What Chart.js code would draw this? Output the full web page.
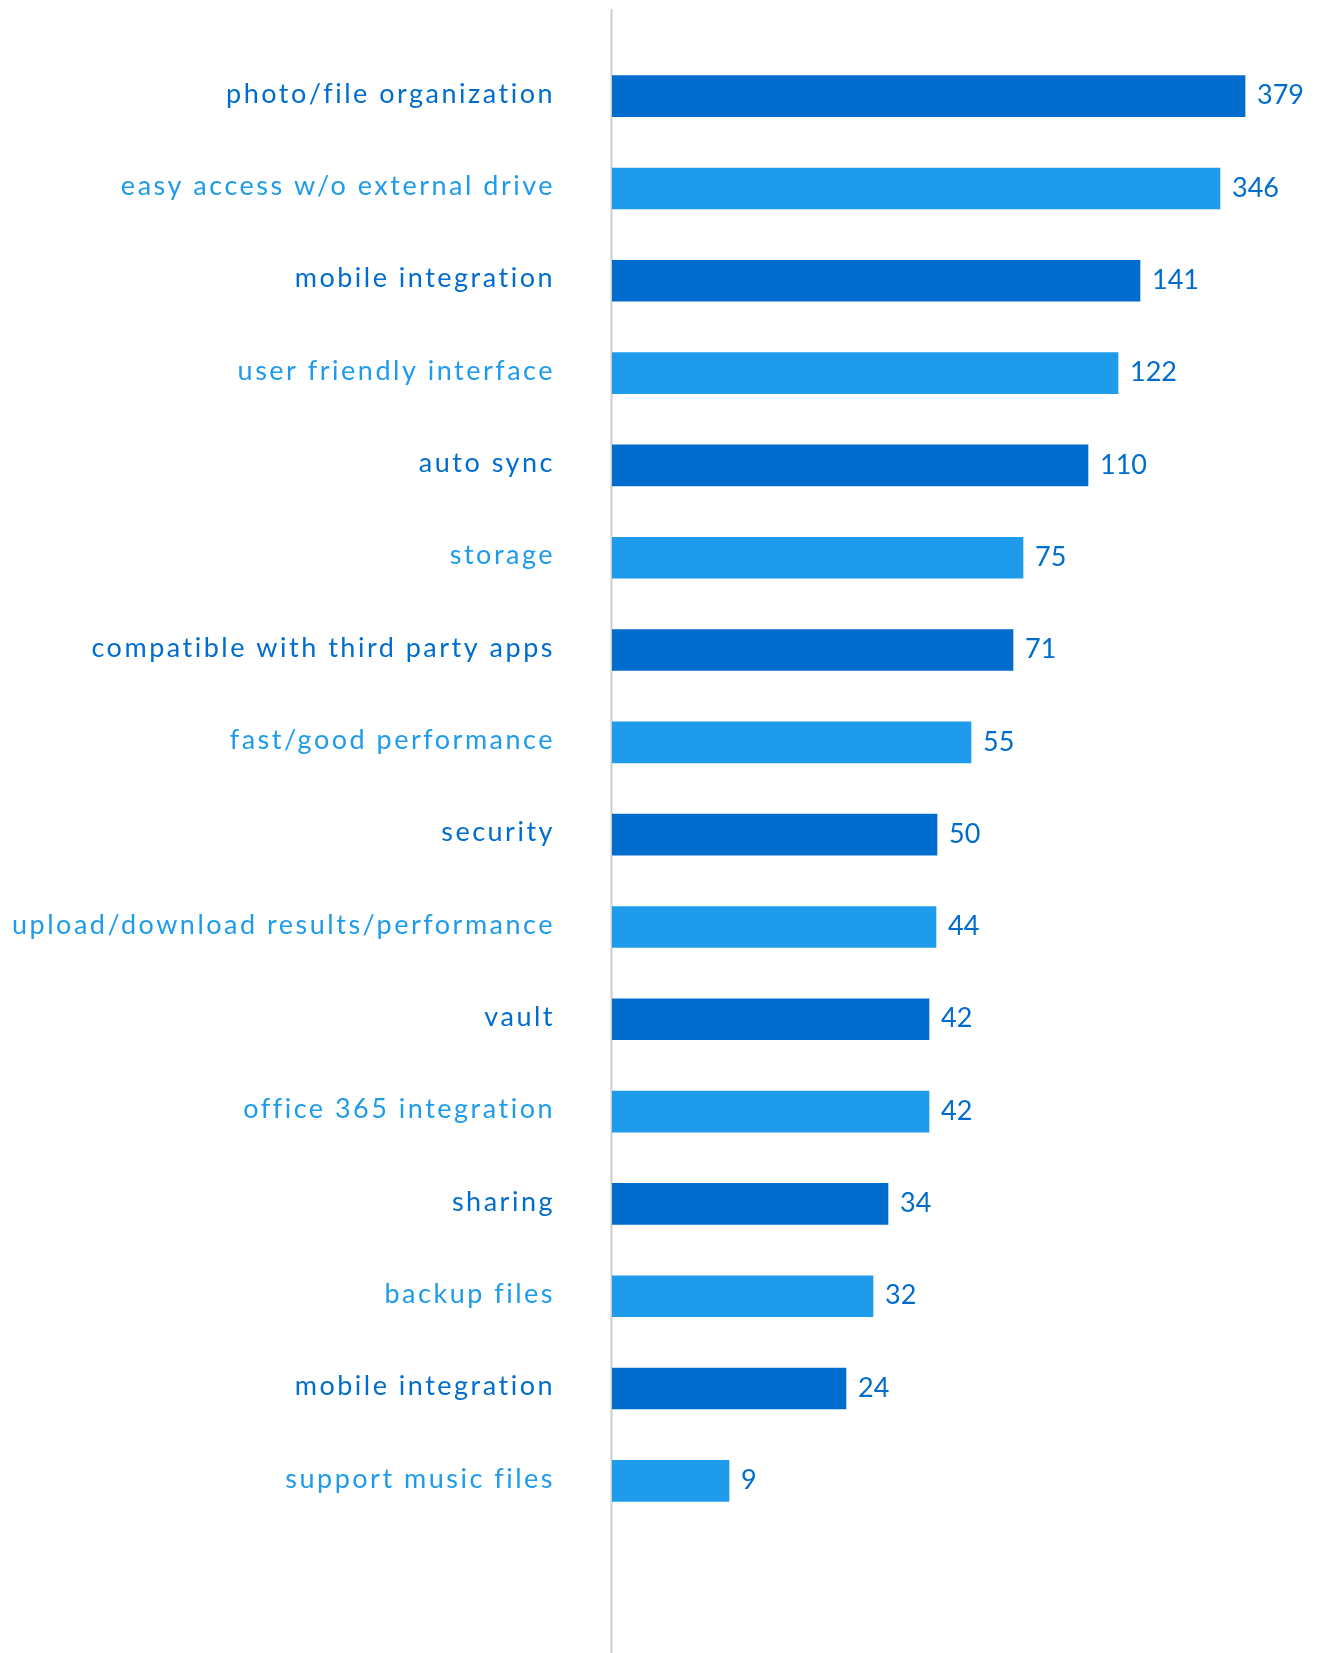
<!DOCTYPE html>
<html>
<head>
<meta charset="utf-8">
<script src="https://cdn.jsdelivr.net/npm/chart.js@4"></script>
<style>
  html, body { margin: 0; padding: 0; background: #ffffff; }
  #wrap { width: 1320px; height: 1653px; }
</style>
</head>
<body>
<div id="wrap"><canvas id="c" width="1320" height="1653"></canvas></div>
<script>
// Categories (top to bottom)
const categories = [
  "photo/file organization",
  "easy access w/o external drive",
  "mobile integration",
  "user friendly interface",
  "auto sync",
  "storage",
  "compatible with third party apps",
  "fast/good performance",
  "security",
  "upload/download results/performance",
  "vault",
  "office 365 integration",
  "sharing",
  "backup files",
  "mobile integration",
  "support music files"
];
// Values printed next to the bars
const valueLabels = [379, 346, 141, 122, 110, 75, 71, 55, 50, 44, 42, 42, 34, 32, 24, 9];
// Bar lengths as drawn in the picture (the picture's bars are not proportional to the printed values)
const barLengths = [633, 608, 528, 506, 476, 411, 401, 359, 325, 324, 317, 317, 276, 261, 234, 117];

const DARK = "#006dce";
const LIGHT = "#1f9bec";
const colorFor = (i) => (i % 2 === 0 ? DARK : LIGHT);

const styling = {
  id: "styling",
  beforeDraw(chart) {
    chart.ctx.letterSpacing = "2.5px";
  },
  beforeDatasetsDraw(chart) {
    const ctx = chart.ctx;
    ctx.letterSpacing = "0px";
    // vertical axis line spanning the page
    const x = chart.scales.x.getPixelForValue(0);
    ctx.save();
    ctx.strokeStyle = "#cccccc";
    ctx.lineWidth = 2;
    ctx.beginPath();
    ctx.moveTo(x - 0.5, 9);
    ctx.lineTo(x - 0.5, chart.height);
    ctx.stroke();
    ctx.restore();
  },
  afterDatasetsDraw(chart) {
    const ctx = chart.ctx;
    ctx.save();
    ctx.letterSpacing = "0px";
    ctx.font = "400 27px Lato";
    ctx.fillStyle = DARK;
    ctx.textAlign = "left";
    ctx.textBaseline = "middle";
    const meta = chart.getDatasetMeta(0);
    meta.data.forEach((bar, i) => {
      ctx.fillText(String(valueLabels[i]), bar.x + 12, bar.y - 0.5);
    });
    ctx.restore();
  }
};

new Chart(document.getElementById("c"), {
  type: "bar",
  data: {
    labels: categories,
    datasets: [{
      data: barLengths,
      backgroundColor: categories.map((_, i) => colorFor(i)),
      borderWidth: 0,
      barThickness: 41
    }]
  },
  options: {
    indexAxis: "y",
    responsive: false,
    animation: false,
    devicePixelRatio: 1,
    layout: { padding: { top: 50, bottom: 126, left: 0, right: 8 } },
    plugins: { legend: { display: false }, tooltip: { enabled: false } },
    scales: {
      x: {
        display: false,
        min: 0,
        max: 700
      },
      y: {
        grid: { display: false, drawTicks: true, tickLength: 57 },
        border: { display: false },
        afterFit(scale) { scale.width = 612; },
        ticks: {
          padding: 0,
          labelOffset: -2,
          font: { family: "Lato", size: 27, weight: "400" },
          color: (ctx) => colorFor(ctx.index)
        }
      }
    }
  },
  plugins: [styling]
});
</script>
</body>
</html>
